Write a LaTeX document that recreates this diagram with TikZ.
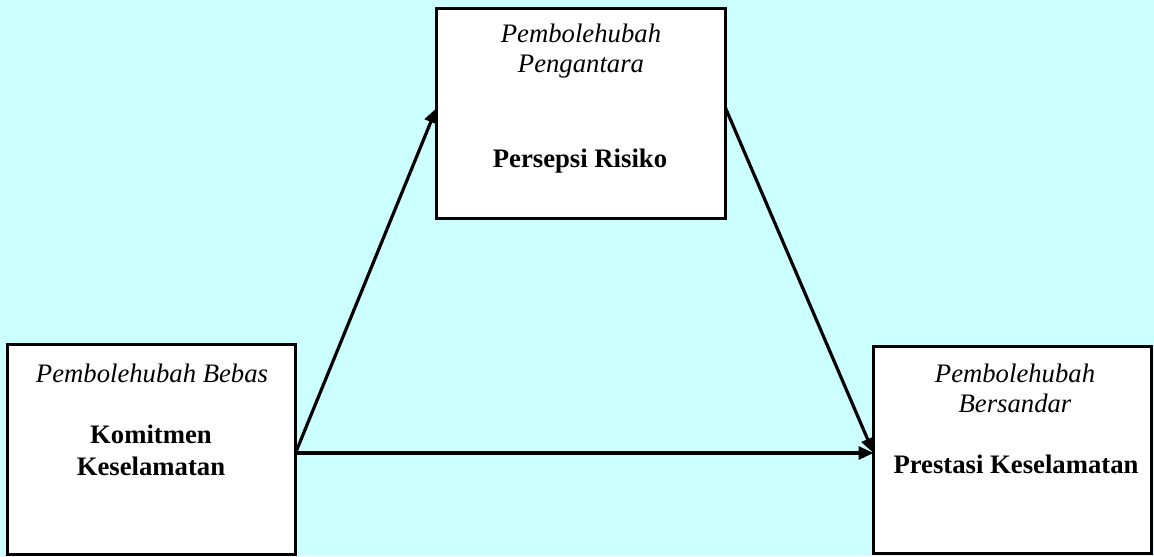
\documentclass[tikz,border=0pt]{standalone}
\usepackage{fontspec}
\setmainfont{Liberation Serif}
\usetikzlibrary{arrows.meta}
\definecolor{bgcyan}{HTML}{CCFFFF}
\begin{document}
\begin{tikzpicture}[x=0.5pt,y=-0.5pt,
  box/.style={draw=black,fill=white,line width=1.6pt,rectangle,inner sep=0pt,outer sep=0pt},
  lbl/.style={anchor=base,inner sep=0pt,font=\fontsize{13.35}{15}\selectfont\itshape},
  ttl/.style={anchor=base,inner sep=0pt,font=\fontsize{13.35}{16}\selectfont\bfseries},
  arr/.style={line width=1.6pt,-{Triangle[length=7.5pt,width=6.5pt]}}]
\fill[bgcyan] (0,0) rectangle (1154,556);
\useasboundingbox (0,0) rectangle (1154,556);
% boxes
\node[box,minimum width=144pt,minimum height=105pt] (L) at (151.5,449.5) {};
\node[box,minimum width=144.5pt,minimum height=105pt] (T) at (581,113.5) {};
\node[box,minimum width=139pt,minimum height=103.5pt] (R) at (1012.5,450) {};
% texts
\node[lbl] (Lt) at (152,382) {Pembolehubah Bebas};
\node[ttl] (Lb1) at (151,443) {Komitmen};
\node[ttl] (Lb2) at (151,475) {Keselamatan};
\node[lbl] (Tt1) at (581,43) {Pembolehubah};
\node[lbl] (Tt2) at (581,73) {Pengantara};
\node[ttl] (Tb) at (580,167) {Persepsi Risiko};
\node[lbl] (Rt1) at (1015,382) {Pembolehubah};
\node[lbl] (Rt2) at (1015,412) {Bersandar};
\node[ttl] (Rb) at (1016,473) {Prestasi Keselamatan};
% connectors
\coordinate (ylow) at (0,453);
\coordinate (yhigh) at (0,108);
\coordinate (S) at (L.east |- ylow);
\draw[arr] (S) -- (R.west |- ylow);
\draw[arr] (S) -- (T.west |- yhigh);
\draw[arr] (T.east |- yhigh) -- (R.west |- ylow);
\end{tikzpicture}
\end{document}
